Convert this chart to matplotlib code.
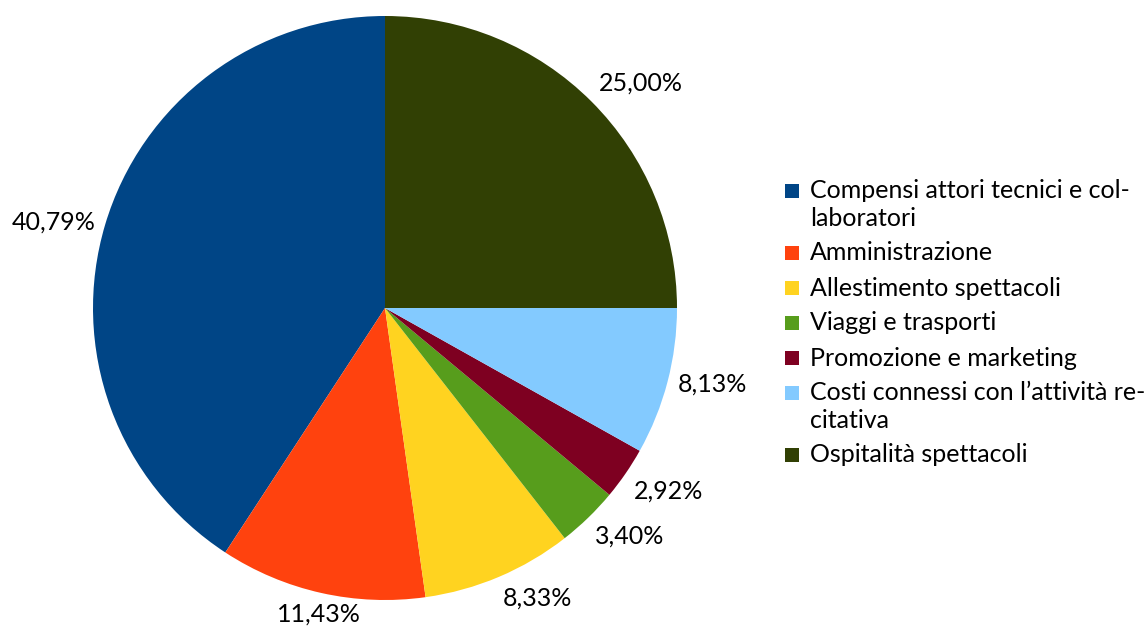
import numpy as np
import matplotlib
matplotlib.use("Agg")
import matplotlib.pyplot as plt
from matplotlib.patches import Rectangle

categories = [
    "Compensi attori tecnici e col-\nlaboratori",
    "Amministrazione",
    "Allestimento spettacoli",
    "Viaggi e trasporti",
    "Promozione e marketing",
    "Costi connessi con l\u2019attività re-\ncitativa",
    "Ospitalità spettacoli",
]
shares = [40.79, 11.43, 8.33, 3.40, 2.92, 8.13, 25.00]
value_labels = ["40,79%", "11,43%", "8,33%", "3,40%", "2,92%", "8,13%", "25,00%"]
colors = ["#004586", "#ff420e", "#ffd320", "#579d1c", "#7e0021", "#83caff", "#314004"]

plt.rcParams["font.family"] = ["Lato", "DejaVu Sans"]
W, H = 1148, 628
fig = plt.figure(figsize=(W / 100, H / 100), dpi=100)

cx, cy, r = 385, 308, 292
ax = fig.add_axes([(cx - r) / W, (H - cy - r) / H, 2 * r / W, 2 * r / H])
wedges, _ = ax.pie(shares, colors=colors, startangle=90, counterclock=True,
                   radius=1.0, wedgeprops=dict(linewidth=0))
ax.set_xlim(-1, 1)
ax.set_ylim(-1, 1)
ax.set_aspect("equal")
ax.axis("off")

fs = 18
for w, lab in zip(wedges, value_labels):
    mid = np.deg2rad((w.theta1 + w.theta2) / 2)
    c, s = np.cos(mid), np.sin(mid)
    x, y = 1.035 * c, 1.035 * s
    ha = "left" if c > 0.25 else ("right" if c < -0.25 else "center")
    va = "center" if abs(s) < 0.3 else ("bottom" if s > 0 else "top")
    ax.text(x, y, lab, ha=ha, va=va, fontsize=fs, color="black", clip_on=False)

# legend drawn as squares plus text lines
line_h = 27
gap = 35
y = 191
sq = 14
for name, col in zip(categories, colors):
    fig.patches.append(Rectangle((785 / W, (H - y - sq / 2) / H), sq / W, sq / H,
                                 transform=fig.transFigure, facecolor=col,
                                 edgecolor="none"))
    lines = name.split("\n")
    for i, ln in enumerate(lines):
        fig.text(810 / W, (H - (y + i * line_h)) / H, ln, ha="left", va="center",
                 fontsize=fs, color="black")
    y += (len(lines) - 1) * line_h + gap

fig.savefig("out.png", dpi=100, facecolor="white")
